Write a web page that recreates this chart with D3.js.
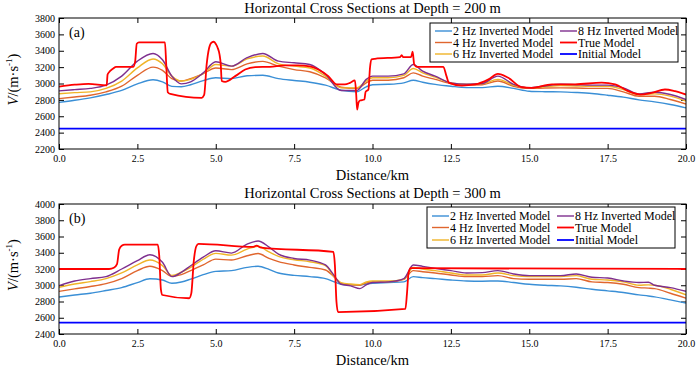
<!DOCTYPE html>
<html><head><meta charset="utf-8">
<script src="https://cdn.jsdelivr.net/npm/d3@7"></script>
<style>
body{margin:0;background:#fff}
text{font-family:"Liberation Serif","Times New Roman",serif;fill:#000}
</style>
</head><body><svg id="c" width="700" height="370"></svg>
<script>
// ---------- DATA ----------
const xTicks = [0, 2.5, 5, 7.5, 10, 12.5, 15, 17.5, 20];
const seriesNames = ["2 Hz Inverted Model","4 Hz Inverted Model","6 Hz Inverted Model","8 Hz Inverted Model","True Model","Initial Model"];
const seriesColors = ["#3a8fd6","#e0662e","#f0b428","#7e2f8e","#ff0000","#0000ff"];

// Panel (a): depth 200 m
const topTitle = "Horizontal Cross Sections at Depth = 200 m";
const topYTicks = [2200,2400,2600,2800,3000,3200,3400,3600,3800];
const topDist = [0,0.5,1.0,1.5,2.0,2.5,3.0,3.3,3.6,3.9,4.2,4.6,5.0,5.5,6.0,6.5,7.0,7.5,8.0,8.5,9.0,9.5,9.8,10.0,10.5,11.0,11.3,11.6,12.0,12.5,13.0,13.5,14.0,14.5,15.0,15.5,16.0,16.5,17.0,17.5,18.0,18.5,19.0,19.5,20.0];
const top2Hz = [2770,2795,2825,2865,2915,2995,3045,3020,2965,2960,2985,3035,3070,3060,3095,3100,3060,3037,3016,2980,2918,2900,2960,2985,2990,3008,3040,3016,2990,2967,2950,2950,2967,2940,2906,2900,2898,2890,2878,2857,2833,2800,2775,2743,2702];
const top4Hz = [2815,2835,2857,2898,2967,3100,3200,3160,3060,3030,3060,3120,3190,3170,3240,3270,3212,3170,3143,3070,2955,2940,3008,3040,3040,3070,3130,3090,3050,3000,2980,2985,3030,2967,2940,2945,2947,2945,2940,2940,2898,2845,2845,2805,2750];
const top6Hz = [2875,2888,2898,2940,3030,3190,3300,3240,3090,3030,3050,3120,3232,3212,3300,3335,3240,3212,3190,3090,2947,2947,3030,3070,3070,3100,3183,3130,3078,3008,2990,2995,3050,2980,2947,2960,2975,2970,2967,2967,2926,2865,2873,2845,2784];
const top8Hz = [2910,2925,2940,2980,3090,3273,3367,3290,3090,2996,3020,3130,3265,3212,3315,3367,3273,3253,3232,3110,2914,2914,3050,3090,3090,3118,3232,3150,3090,3008,2990,3000,3090,2990,2947,2970,2990,2985,2980,2980,2947,2873,2894,2865,2804];
const topTrueDist = [0,0.5,0.94,1.52,1.55,1.58,1.73,1.82,2.37,2.43,2.48,2.55,3.38,3.42,3.47,3.55,4.55,4.63,4.71,4.79,4.87,4.94,5.01,5.06,5.12,5.16,5.19,5.3,5.62,5.94,6.26,6.73,7.21,7.63,8.0,8.27,8.59,8.86,9.12,9.28,9.44,9.48,9.51,9.55,9.6,9.74,9.78,9.87,9.92,9.97,10.08,10.88,10.93,10.98,11.23,11.28,11.33,11.41,12.26,12.36,12.44,12.85,13.27,13.7,14.0,14.33,14.76,15.08,15.72,16.46,17.31,17.74,18.16,18.54,18.9,19.33,19.65,20.0];
const topTrue = [2962,2985,2996,2978,3110,3130,3184,3204,3204,3273,3486,3502,3502,3233,2894,2873,2825,2860,3233,3437,3502,3510,3478,3437,3355,3233,3030,3020,3090,3171,3200,3204,3222,3222,3210,3171,3090,2990,2990,3008,3037,2865,2682,2763,2792,2804,2898,2927,3192,3294,3302,3322,3347,3322,3322,3388,3233,3204,3204,3090,3008,2975,2988,3050,3118,3070,2955,2947,2990,2990,3010,2990,2906,2865,2886,2927,2906,2865];
const topInitial = 2450;

// Panel (b): depth 300 m
const botTitle = "Horizontal Cross Sections at Depth = 300 m";
const botYTicks = [2400,2600,2800,3000,3200,3400,3600,3800,4000];
const botDist = [0,0.5,1.0,1.5,2.0,2.5,2.9,3.3,3.6,3.9,4.2,4.6,5.0,5.5,6.0,6.35,6.7,7.0,7.5,8.0,8.5,8.8,9.0,9.3,9.6,9.8,10.0,10.5,11.0,11.3,11.6,12.0,12.5,13.0,13.5,14.0,14.5,15.0,15.5,16.0,16.5,17.0,17.5,18.0,18.5,18.8,19.0,19.5,20.0];
const bot2Hz = [2855,2880,2902,2935,2971,3033,3080,3065,3024,3040,3075,3130,3171,3180,3220,3233,3195,3151,3122,3106,3082,3040,3012,3005,3004,3015,3024,3033,3041,3106,3094,3082,3065,3053,3050,3053,3033,3012,3000,2992,2975,2951,2931,2910,2882,2868,2857,2820,2780];
const bot4Hz = [2925,2955,2984,3020,3082,3180,3233,3180,3110,3130,3180,3250,3322,3310,3363,3390,3330,3290,3250,3220,3188,3094,3020,3005,3000,3030,3041,3041,3073,3180,3167,3151,3127,3106,3106,3118,3082,3073,3073,3073,3082,3041,3033,3012,2971,2965,2959,2902,2841];
const bot6Hz = [2975,3015,3045,3082,3151,3250,3310,3241,3122,3160,3220,3320,3392,3371,3445,3480,3410,3355,3314,3290,3241,3094,3033,3015,3008,3040,3053,3053,3073,3220,3200,3180,3151,3127,3127,3151,3118,3106,3106,3106,3118,3073,3065,3041,3000,3005,3000,2951,2882];
const bot8Hz = [2995,3053,3082,3106,3200,3302,3375,3282,3106,3159,3240,3345,3424,3396,3506,3545,3470,3384,3330,3310,3250,3106,3012,2992,2959,3004,3033,3041,3082,3250,3233,3208,3180,3151,3155,3180,3139,3118,3118,3118,3139,3098,3090,3053,3033,3037,3000,2971,2925];
const botTrueDist = [0,1.6,1.75,1.85,1.92,2.0,2.1,3.15,3.2,3.25,3.3,4.15,4.22,4.3,4.38,4.45,6.2,6.3,6.45,8.75,8.8,8.85,8.9,11.05,11.1,11.15,11.22,20];
const botTrue = [3200,3200,3215,3260,3440,3486,3500,3500,3350,2950,2880,2840,2900,3300,3480,3510,3472,3487,3462,3412,3250,2800,2670,2710,2900,3150,3210,3200];
const botInitial = 2540;

// ---------- DRAW ----------
const svg = d3.select("#c");
const X0 = 59, X1 = 686;

function panel(cfg){
  const g = svg.append("g");
  const x = d3.scaleLinear().domain([0,20]).range([X0,X1]);
  const y = d3.scaleLinear().domain(cfg.yDomain).range([cfg.bottom,cfg.top]);
  const clipId = "clip"+cfg.tag;
  svg.append("clipPath").attr("id",clipId).append("rect")
     .attr("x",X0).attr("y",cfg.top).attr("width",X1-X0).attr("height",cfg.bottom-cfg.top);

  // axes
  const ax = g.append("g").attr("font-size",14);
  ax.append("g").attr("transform",`translate(0,${cfg.bottom})`)
    .call(d3.axisBottom(x).tickValues(xTicks).tickFormat(d3.format(".1f")).tickSizeInner(-5).tickSizeOuter(0).tickPadding(6));
  ax.append("g").attr("transform",`translate(0,${cfg.top})`)
    .call(d3.axisTop(x).tickValues(xTicks).tickFormat("").tickSizeInner(-5).tickSizeOuter(0));
  ax.append("g").attr("transform",`translate(${X0},0)`)
    .call(d3.axisLeft(y).tickValues(cfg.yTicks).tickFormat(d3.format("d")).tickSizeInner(-5).tickSizeOuter(0).tickPadding(4));
  ax.append("g").attr("transform",`translate(${X1},0)`)
    .call(d3.axisRight(y).tickValues(cfg.yTicks).tickFormat("").tickSizeInner(-5).tickSizeOuter(0));
  ax.selectAll(".domain").remove();
  ax.selectAll("text").attr("font-family","Liberation Serif").attr("fill","#000");
  ax.selectAll("line").attr("stroke","#000");

  const plot = g.append("g").attr("clip-path",`url(#${clipId})`);
  const line = d3.line().x(d=>x(d[0])).y(d=>y(d[1])).curve(d3.curveMonotoneX);
  // initial model
  plot.append("path").attr("d", d3.line().x(d=>x(d[0])).y(d=>y(d[1]))([[0,cfg.initial],[20,cfg.initial]]))
     .attr("fill","none").attr("stroke",seriesColors[5]).attr("stroke-width",1.8);
  cfg.inv.forEach((vals,i)=>{
    plot.append("path").attr("d", line(cfg.dist.map((d,j)=>[d,vals[j]])))
      .attr("fill","none").attr("stroke",seriesColors[i]).attr("stroke-width",1.4);
  });
  plot.append("path").attr("d", line(cfg.trueDist.map((d,j)=>[d,cfg.trueVals[j]])))
      .attr("fill","none").attr("stroke",seriesColors[4]).attr("stroke-width",1.8).attr("stroke-linejoin","round");

  // frame
  g.append("rect").attr("x",X0).attr("y",cfg.top).attr("width",X1-X0).attr("height",cfg.bottom-cfg.top)
   .attr("fill","none").attr("stroke","#000").attr("stroke-width",1);

  // title
  g.append("text").attr("x",(X0+X1)/2).attr("y",cfg.titleY).attr("text-anchor","middle").attr("font-size",14.5).text(cfg.title);
  // x label
  g.append("text").attr("x",(X0+X1)/2).attr("y",cfg.xLabelY).attr("text-anchor","middle").attr("font-size",14.5).text("Distance/km");
  // y label
  const yl = g.append("text").attr("transform",`translate(18,${(cfg.top+cfg.bottom)/2-4}) rotate(-90)`)
     .attr("text-anchor","middle").attr("font-size",14.5);
  yl.append("tspan").attr("font-style","italic").text("V");
  yl.append("tspan").text("/(m·s");
  yl.append("tspan").attr("font-size",9).attr("dy",-6).text("-1");
  yl.append("tspan").attr("dy",6).text(")");
  // panel tag
  g.append("text").attr("x",69).attr("y",cfg.top+19).attr("font-size",14).text(cfg.label);

  // legend
  const L = cfg.legend;
  g.append("rect").attr("x",L.x).attr("y",L.y).attr("width",L.w).attr("height",L.h)
   .attr("fill","#fff").attr("stroke","#000").attr("stroke-width",1);
  const cols = [L.x+5, L.x+130];
  seriesNames.forEach((name,i)=>{
    const c = Math.floor(i/3), r = i%3;
    const cx = cols[c], cy = L.y + L.rows[r];
    g.append("line").attr("x1",cx).attr("x2",cx+17).attr("y1",cy).attr("y2",cy)
      .attr("stroke",seriesColors[i]).attr("stroke-width",i>=4?1.8:1.4);
    g.append("text").attr("x",cx+18).attr("y",cy+4).attr("font-size",12).text(name);
  });
}

panel({tag:"a", top:18, bottom:149, yDomain:[2200,3800], yTicks:topYTicks, title:topTitle, label:"(a)",
  titleY:13, xLabelY:180, dist:topDist, inv:[top2Hz,top4Hz,top6Hz,top8Hz], trueDist:topTrueDist, trueVals:topTrue, initial:topInitial,
  legend:{x:430,y:23,w:248,h:39,rows:[8,19.5,31]}});
panel({tag:"b", top:204, bottom:334, yDomain:[2400,4000], yTicks:botYTicks, title:botTitle, label:"(b)",
  titleY:198, xLabelY:365, dist:botDist, inv:[bot2Hz,bot4Hz,bot6Hz,bot8Hz], trueDist:botTrueDist, trueVals:botTrue, initial:botInitial,
  legend:{x:427,y:207,w:248,h:41,rows:[9,20.5,33]}});
</script>
</body></html>
